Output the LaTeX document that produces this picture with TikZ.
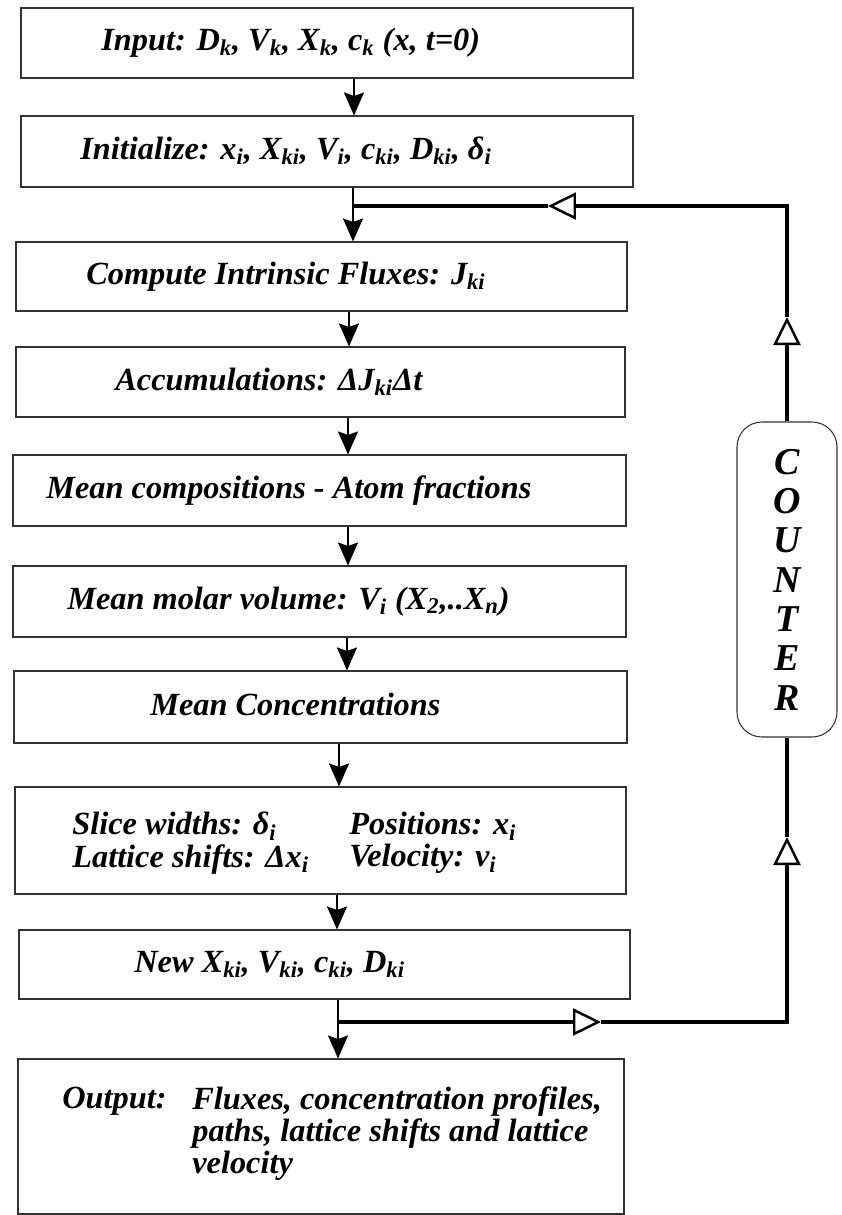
\documentclass[tikz,border=0pt]{standalone}
\usepackage{fontspec}
\setmainfont{Liberation Serif}
\usetikzlibrary{arrows.meta}
\newcommand{\pxu}{0.02cm}

\begin{document}
\begin{tikzpicture}[
    x=\pxu, y=-\pxu,
    stage/.style={rectangle,draw=black!80,line width=0.6pt,inner sep=0pt},
    txt/.style={inner sep=0pt,align=left,font=\fontsize{18.4}{18.3}\selectfont\bfseries\itshape},
    flow/.style={line width=1.1pt,-{Stealth[length=0.46cm,width=0.4cm,inset=0.07cm]}},
    fb/.style={line width=1.9pt},
    fbarrow/.style={fb,-{Triangle[open,line width=1.4pt,length=0.56cm,width=0.54cm]}},
    counter/.style={rectangle,rounded corners=0.5cm,draw=black!80,line width=0.6pt,
      minimum width=100*\pxu,minimum height=315*\pxu,inner sep=0pt,align=center,
      font=\fontsize{21.6}{22.4}\selectfont\bfseries\itshape}
  ]
  \useasboundingbox (0,0) rectangle (842,1215);
  % Stages
  \foreach \n/\cx/\cy/\w/\h in {b1/327/43/612/70, b2/327/151.5/612/71,
      b3/321.5/276.5/611/69, b4/320.5/382/609/70, b5/319.5/490.5/613/71,
      b6/319.5/601.5/613/71, b7/320.5/707/613/72, b8/320.5/840.5/611/107,
      b9/324.5/964.5/611/69, b10/321/1136.5/606/155} {
    \node[stage,minimum width=\w*\pxu,minimum height=\h*\pxu] (\n) at (\cx,\cy) {};
  }
  % Texts
  \node[txt,anchor=base west] (t1) at (101,50) {Input: D\textsubscript{k}, V\textsubscript{k}, X\textsubscript{k}, c\textsubscript{k} (x, t=0)};
  \node[txt,anchor=base west] (t2) at (80,159) {Initialize: x\textsubscript{i}, X\textsubscript{ki}, V\textsubscript{i}, c\textsubscript{ki}, D\textsubscript{ki}, δ\textsubscript{i}};
  \node[txt,anchor=base west] (t3) at (86,284) {Compute Intrinsic Fluxes: J\textsubscript{ki}};
  \node[txt,anchor=base west] (t4) at (115,390) {Accumulations: ΔJ\textsubscript{ki}Δt};
  \node[txt,anchor=base west] (t5) at (46,498) {Mean compositions - Atom fractions};
  \node[txt,anchor=base west] (t6) at (67,609) {Mean molar volume: V\textsubscript{i} (X\textsubscript{2},..X\textsubscript{n})};
  \node[txt,anchor=base west] (t7) at (150,715) {Mean Concentrations};
  \node[txt,anchor=north west] (t8a) at (72,812) {Slice widths: δ\textsubscript{i}\\Lattice shifts: Δx\textsubscript{i}};
  \node[txt,anchor=north west] (t8b) at (349,812) {Positions: x\textsubscript{i}\\Velocity: v\textsubscript{i}};
  \node[txt,anchor=base west] (t9) at (134,972) {New X\textsubscript{ki}, V\textsubscript{ki}, c\textsubscript{ki}, D\textsubscript{ki}};
  \node[txt,anchor=base west] (t10a) at (62,1108) {Output:};
  \node[txt,anchor=north west] (t10b) at (192,1086) {Fluxes, concentration profiles,\\paths, lattice shifts and lattice\\velocity};
  % Main flow
  \foreach \a/\b/\ax in {b1/b2/354, b2/b3/353, b3/b4/349, b4/b5/348, b5/b6/348,
      b6/b7/347, b7/b8/339, b8/b9/337, b9/b10/338} {
    \draw[flow] (\a.south -| \ax,0) -- (\b.north -| \ax,0);
  }
  % Counter loop
  \node[counter] (cnt) at (787,579.5) {C\\O\\U\\N\\T\\E\\R};
  \coordinate (split) at (338,1022);
  \coordinate (aR) at (601,1022);
  \coordinate (cbr) at (787,1022);
  \coordinate (aU) at (787,837);
  \coordinate (aV) at (787,317);
  \coordinate (ctr) at (787,206);
  \coordinate (aL) at (548,206);
  \coordinate (join) at (353,206);
  \draw[fbarrow] (split) -- (aR);
  \draw[fbarrow] (aR) -- (cbr) -- (aU);
  \draw[fb] (aU) -- (cnt.south);
  \draw[fbarrow] (cnt.north) -- (aV);
  \draw[fbarrow] (aV) -- (ctr) -- (aL);
  \draw[fb] (aL) -- (join);
\end{tikzpicture}
\end{document}
